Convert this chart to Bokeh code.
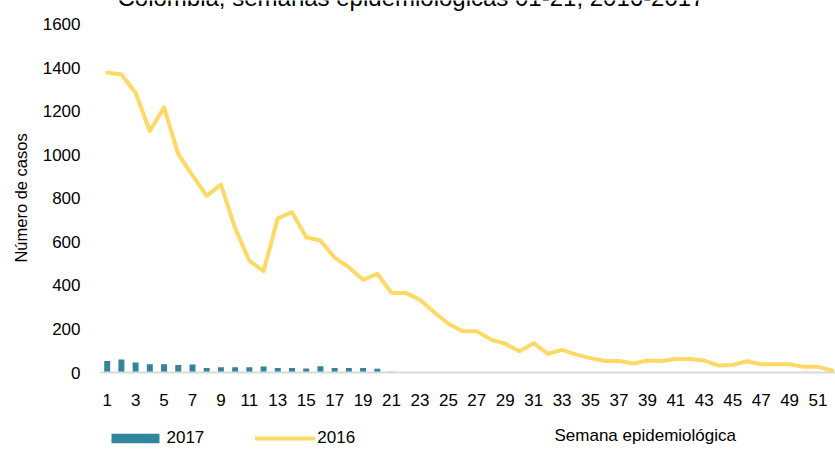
from bokeh.plotting import figure
from bokeh.layouts import column
from bokeh.models import ColumnDataSource, Label, Legend, LegendItem, FixedTicker, Range1d
from bokeh.embed import file_html
from bokeh.resources import INLINE

# ---- data ----
weeks_2016 = list(range(1, 53))
cases_2016 = [1379, 1370, 1286, 1110, 1219, 1004, 906, 812, 864, 664,
              514, 466, 709, 737, 622, 607, 528, 484, 426, 454,
              366, 366, 334, 277, 224, 190, 190, 151, 132, 98,
              135, 86, 104, 82, 66, 53, 53, 41, 55, 53,
              62, 62, 55, 32, 35, 52, 38, 38, 38, 26,
              26, 9]
weeks_2017 = list(range(1, 22))
cases_2017 = [53, 60, 46, 38, 38, 34, 37, 21, 24, 24,
              24, 28, 21, 21, 18, 29, 21, 21, 21, 17, 3]
x_tick_values = list(range(1, 52, 2))
y_tick_values = [0, 200, 400, 600, 800, 1000, 1200, 1400, 1600]

title_text = "Colombia, semanas epidemiológicas 01-21, 2016-2017"
y_label = "Número de casos"
x_label = "Semana epidemiológica"
label_2017 = "2017"
label_2016 = "2016"

FONT = "Liberation Sans"
BAR_COLOR = "#31859C"
LINE_COLOR = "#FFD966"
W = 835

src16 = ColumnDataSource(dict(x=weeks_2016, y=cases_2016))
src17 = ColumnDataSource(dict(x=weeks_2017, y=cases_2017))

# ---- main chart: frame spans canvas y 0..372, 1600 sits 24 px below the top ----
p = figure(width=W, height=420, output_backend="svg", toolbar_location=None,
           x_range=Range1d(0.53, 52.23), y_range=Range1d(0, 1710.3),
           min_border_left=100, min_border_right=0, min_border_top=0,
           min_border_bottom=48)
p.outline_line_color = None
p.xgrid.visible = False
p.ygrid.visible = False

p.vbar(x="x", top="y", width=0.42, source=src17, fill_color=BAR_COLOR, line_color=None)
p.line(x="x", y="y", source=src16, line_color=LINE_COLOR, line_width=4,
       line_join="round", line_cap="round")

xa = p.xaxis[0]
xa.ticker = FixedTicker(ticks=x_tick_values)
xa.major_tick_line_color = None
xa.minor_tick_line_color = None
xa.major_tick_out = 0
xa.major_tick_in = 0
xa.axis_line_color = "#D9D9D9"
xa.axis_line_width = 2
xa.major_label_text_font = FONT
xa.major_label_text_font_size = "17px"
xa.major_label_text_color = "black"
xa.major_label_standoff = 21

ya = p.yaxis[0]
ya.ticker = FixedTicker(ticks=y_tick_values)
ya.axis_line_color = None
ya.major_tick_line_color = None
ya.minor_tick_line_color = None
ya.major_tick_out = 0
ya.major_tick_in = 0
ya.major_label_text_font = FONT
ya.major_label_text_font_size = "17px"
ya.major_label_text_color = "black"
ya.major_label_standoff = 20
ya.axis_label = y_label + "\u00a0" * 5
ya.axis_label_text_font = FONT
ya.axis_label_text_font_size = "16.5px"
ya.axis_label_text_font_style = "normal"
ya.axis_label_text_color = "black"
ya.axis_label_standoff = 10

# chart title, cut at the top edge as in the original
p.add_layout(Label(x=310.5, y=375.5, x_units="screen", y_units="screen",
                   text=title_text, text_align="center", text_baseline="alphabetic",
                   text_font=FONT, text_font_size="24px", text_color="black"))

# ---- legend strip under the chart ----
pl = figure(width=W, height=29, output_backend="svg", toolbar_location=None,
            x_axis_type=None, y_axis_type=None,
            x_range=Range1d(0.53, 52.23), y_range=Range1d(10000, 10001),
            min_border_left=100, min_border_right=0,
            min_border_top=0, min_border_bottom=0)
pl.outline_line_color = None
leg_bar = pl.vbar(x="x", top="y", width=0.42, source=src17, fill_color=BAR_COLOR,
                  line_color=None)
leg_line = pl.line(x="x", y="y", source=src16, line_color=LINE_COLOR, line_width=4,
                   line_cap="round")
legend = Legend(items=[LegendItem(label=label_2017, renderers=[leg_bar]),
                       LegendItem(label=label_2016, renderers=[leg_line])],
                orientation="horizontal", location=(4.5, 1),
                glyph_width=60, glyph_height=12, label_standoff=2, spacing=51,
                padding=0, margin=0, border_line_color=None,
                background_fill_alpha=0, label_text_font=FONT,
                label_text_font_size="17px", label_text_color="black",
                label_height=20)
pl.add_layout(legend, "center")
pl.add_layout(Label(x=454, y=14.2, x_units="screen", y_units="screen",
                    text=x_label, text_align="left", text_baseline="alphabetic",
                    text_font=FONT, text_font_size="17px", text_color="black"))

layout = column(p, pl, spacing=0)
open("out.html", "w").write(file_html(layout, INLINE))
